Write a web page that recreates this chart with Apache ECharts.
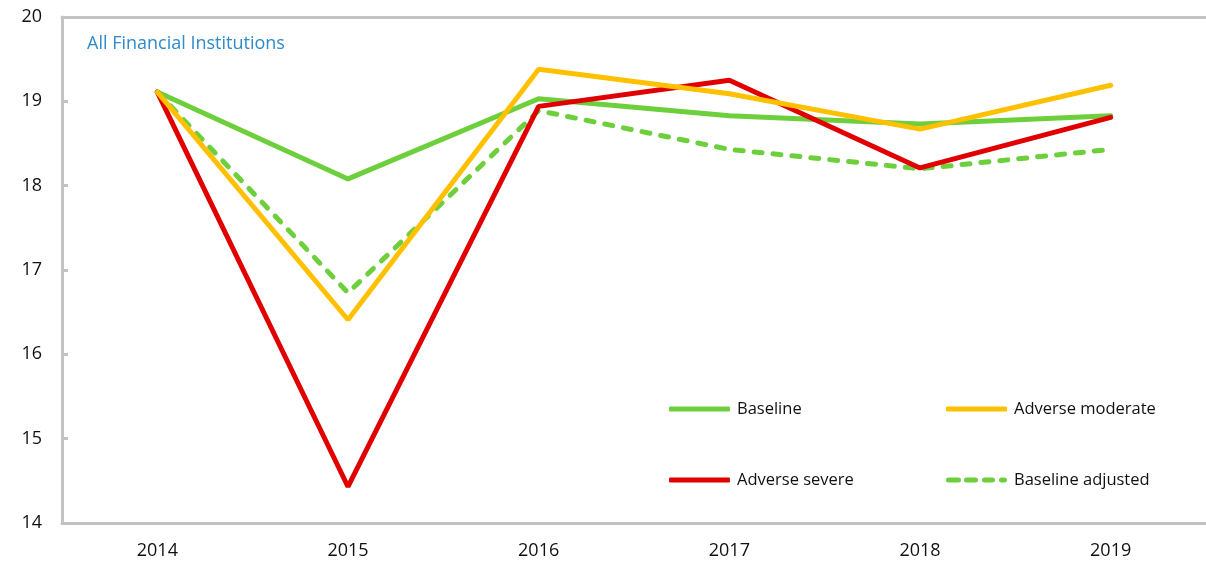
<!DOCTYPE html>
<html>
<head>
<meta charset="utf-8">
<script src="https://cdn.jsdelivr.net/npm/echarts@6/dist/echarts.min.js"></script>
<style>html,body{margin:0;padding:0;background:#fff}#c{width:1206px;height:564px}</style>
</head>
<body>
<div id="c"></div>
<script>
const years = ['2014', '2015', '2016', '2017', '2018', '2019'];
const baseline = [19.11, 18.08, 19.03, 18.83, 18.73, 18.83];
const adverseModerate = [19.11, 16.41, 19.38, 19.09, 18.67, 19.19];
const adverseSevere = [19.11, 14.43, 18.94, 19.25, 18.21, 18.81];
const baselineAdjusted = [19.11, 16.73, 18.89, 18.43, 18.20, 18.43];
const seriesNames = ['Baseline', 'Adverse moderate', 'Adverse severe', 'Baseline adjusted'];
const yTicks = [14, 15, 16, 17, 18, 19, 20];
const titleText = 'All Financial Institutions';

const GREEN = '#6ECF3C', ORANGE = '#FFC000', RED = '#E00000';
const FONT = '"Open Sans", "Noto Sans", sans-serif';
const axisGray = '#C3C3C3';

const SOLID_ICON = 'roundRect';
function seg(x, w) { return 'M' + (x + 2.5) + ',0h' + (w - 5) + 'a2.5,2.5 0 0 1 0,5h-' + (w - 5) + 'a2.5,2.5 0 0 1 0,-5z'; }
const DASH_ICON = 'path://' + seg(0, 15) + seg(18, 14) + seg(36, 13) + seg(53, 8);

const chart = echarts.init(document.getElementById('c'), null, {renderer: 'canvas'});

function legendAt(name, icon, left, top) {
  return {
    data: [{name: name, icon: icon}], left: left, top: top, itemWidth: 61, itemHeight: 5, itemGap: 0,
    textStyle: {fontFamily: FONT, fontSize: 16.5, color: '#111', lineHeight: 20, padding: [0, 0, 0, 2]},
    selectedMode: false
  };
}

chart.setOption({
  animation: false,
  backgroundColor: '#fff',
  title: {
    text: titleText, left: 82, top: 30,
    textStyle: {fontFamily: FONT, fontSize: 18, fontWeight: 'normal', color: '#2E8BC9'}
  },
  legend: [
    legendAt(seriesNames[0], SOLID_ICON, 664, 394),
    legendAt(seriesNames[1], SOLID_ICON, 941, 394),
    legendAt(seriesNames[2], SOLID_ICON, 664, 465),
    legendAt(seriesNames[3], DASH_ICON, 941, 465)
  ],
  grid: {left: 62, top: 17, width: 1148, bottom: 41, containLabel: false},
  xAxis: [{
    type: 'category', data: years, boundaryGap: true,
    axisLine: {lineStyle: {color: axisGray, width: 3}},
    axisTick: {inside: true, length: 7, lineStyle: {color: axisGray, width: 3}},
    axisLabel: {fontFamily: FONT, fontSize: 18, color: '#111', margin: 19}
  }, {
    type: 'category', data: years, position: 'top',
    axisLine: {lineStyle: {color: axisGray, width: 3}},
    axisTick: {show: false}, axisLabel: {show: false}
  }],
  yAxis: {
    type: 'value', min: yTicks[0], max: yTicks[yTicks.length - 1], interval: 1,
    axisLine: {show: true, lineStyle: {color: axisGray, width: 3}},
    axisTick: {show: true, inside: true, length: 6, lineStyle: {color: axisGray, width: 3}},
    splitLine: {show: false},
    axisLabel: {fontFamily: FONT, fontSize: 18, color: '#111', margin: 20}
  },
  series: [
    {name: seriesNames[3], type: 'line', data: baselineAdjusted, symbol: 'none', color: GREEN,
     lineStyle: {color: GREEN, width: 5, type: [8, 11], cap: 'round'}},
    {name: seriesNames[0], type: 'line', data: baseline, symbol: 'none', color: GREEN,
     lineStyle: {color: GREEN, width: 5, cap: 'round'}},
    {name: seriesNames[2], type: 'line', data: adverseSevere, symbol: 'none', color: RED,
     lineStyle: {color: RED, width: 5, cap: 'round'}},
    {name: seriesNames[1], type: 'line', data: adverseModerate, symbol: 'none', color: ORANGE,
     lineStyle: {color: ORANGE, width: 5, cap: 'round'}}
  ]
});
</script>
</body>
</html>
